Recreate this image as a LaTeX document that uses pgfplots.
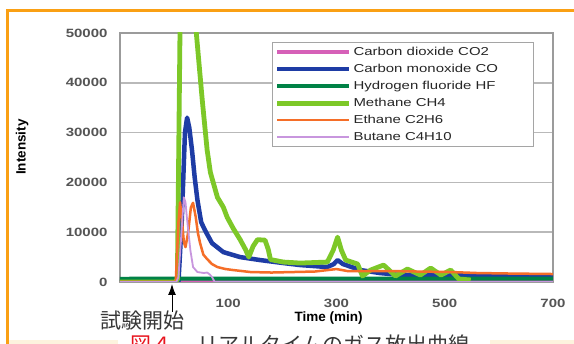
\documentclass[border=0pt]{standalone}
\usepackage{pgfplots}
\pgfplotsset{compat=1.18}
\usepackage{fontspec}
\setmainfont{Liberation Sans}
\newfontfamily\cjk{Noto Sans CJK JP}
\newfontfamily\legfont[FakeStretch=1.3]{Liberation Sans}
\newfontfamily\tickfont[FakeStretch=1.25]{Liberation Sans}
\usetikzlibrary{arrows.meta}
\definecolor{cCOtwo}{RGB}{214,96,184}
\definecolor{cCO}{RGB}{30,60,165}
\definecolor{cHF}{RGB}{0,130,70}
\definecolor{cCH}{RGB}{125,200,40}
\definecolor{cET}{RGB}{245,110,40}
\definecolor{cBU}{RGB}{200,150,222}
\definecolor{orangeframe}{RGB}{250,160,20}
\definecolor{beige}{RGB}{253,243,222}
\definecolor{gridgray}{RGB}{185,185,185}
\definecolor{axisgray}{RGB}{155,155,155}
\definecolor{legendgray}{RGB}{165,165,165}
\definecolor{tickgray}{RGB}{85,85,85}
\definecolor{capgray}{RGB}{55,55,55}
\definecolor{capred}{RGB}{232,20,30}
\newcommand{\lt}[1]{\makebox[176pt][l]{#1}}

\begin{document}
\begin{tikzpicture}[x=1pt,y=1pt]
\useasboundingbox (0,0) rectangle (574,344);
\fill[white] (0,0) rectangle (574,344);
\fill[beige] (8,0) rectangle (118,4);
\fill[beige] (490,0) rectangle (574,4);
\draw[orangeframe, line width=3pt] (7,-5) -- (7,333) -- (580,333);
\begin{axis}[
  at={(120pt,62pt)}, anchor=south west,
  scale only axis, width=433pt, height=249pt,
  xmin=-100, xmax=700, ymin=0, ymax=50000,
  xtick={100,300,500,700},
  ytick={0,10000,20000,30000,40000,50000},
  scaled y ticks=false,
  /pgf/number format/assume math mode=true,
  /pgf/number format/1000 sep={},
  ymajorgrids,
  grid style={gridgray, line width=1.6pt},
  axis line style={axisgray, line width=1.6pt},
  major tick length=0pt,
  tick label style={font=\tickfont\bfseries\fontsize{12}{12}\selectfont, text=tickgray},
  yticklabel style={xshift=-9pt},
  xticklabel style={yshift=-14pt},
  xlabel={Time (min)},
  ylabel={Intensity},
  label style={font=\bfseries\fontsize{13.5}{14}\selectfont},
  xlabel style={at={(axis description cs:0.482,0)}, anchor=center, yshift=-36pt},
  ylabel style={at={(axis description cs:-0.226,0.542)}, anchor=center},
  every axis plot/.append style={line join=round, no markers},
  legend cell align=left,
  legend image code/.code={\path (-35pt,0pt) -- (0pt,0pt); \draw[#1] (0pt,0pt) -- (37pt,0pt);},
  legend style={at={(0.351,0.964)}, anchor=north west, draw=legendgray, line width=1.5pt,
    font=\legfont\fontsize{11.5}{12}\selectfont, text=black!85, inner xsep=2pt, inner ysep=1pt, row sep=0pt,
    nodes={inner sep=2pt, text height=9.5pt, text depth=3.5pt}},
]
\addplot[cCOtwo, line width=3.5pt] coordinates {(-100,0) (700,0)};
\addlegendentry{\lt{Carbon dioxide CO2}}
\addplot[cCO, line width=4.5pt] coordinates {
(-100,0) (8,0) (14,12000) (20,30000) (24,33000) (28,31000) (33,26500) (38,21000) (43,16500)
(50,12000) (57,10400) (70,7800) (91,6000) (122,5000) (159,4400) (202,3800) (233,3400)
(283,3000) (295,3600) (302,4400) (312,3600) (344,2400) (380,1800) (418,1400) (480,1500)
(535,1400) (585,1200) (650,1200) (700,1300)};
\addlegendentry{\lt{Carbon monoxide CO}}
\addplot[cHF, line width=4pt] coordinates {(-100,650) (700,700)};
\addlegendentry{\lt{Hydrogen fluoride HF}}
\addplot[cCH, line width=4.8pt] coordinates {
(-100,0) (2,0) (6,500) (12,62000) (30,62000) (41,50000) (52,36500) (61,26500) (67,22000)
(80,17000) (91,15000) (98,13000) (109,10800) (122,8500) (132,6500) (138,5000) (146,7200)
(154,8500) (168,8400) (174,6500) (178,4500) (202,4000) (233,3800) (283,4000) (294,6400)
(302,9000) (309,6400) (317,4400) (339,3600) (348,1200) (363,2400) (387,3400) (409,1200)
(431,2600) (455,1400) (474,2800) (493,1400) (511,2400) (526,600) (548,400)};
\addlegendentry{\lt{Methane CH4}}
\addplot[cET, line width=2.5pt] coordinates {
(-100,0) (3,0) (8,12000) (11,16000) (14,13000) (18,8000) (21,7000) (26,10000) (31,15000)
(35,15900) (40,13000) (44,9800) (48,7800) (54,5500) (61,4600) (70,3600) (80,3000) (95,2600)
(109,2400) (141,2000) (180,1900) (220,2000) (260,2100) (300,2600) (320,2200) (400,2200)
(450,2100) (511,2000) (560,1800) (620,1700) (700,1600)};
\addlegendentry{\lt{Ethane C2H6}}
\addplot[cBU, line width=1.8pt] coordinates {
(-100,0) (4,0) (8,1000) (13,9000) (18,17000) (21,16000) (24,12500) (30,6400) (35,3000)
(43,2000) (55,1800) (61,1900) (66,1500) (70,1000) (75,0) (700,0)};
\addlegendentry{\lt{Butane C4H10}}
\end{axis}
\draw[-{Latex[length=11pt,width=8pt]}, line width=1pt, black] (172,32) -- (172,60);
\node[anchor=base west, inner sep=0pt, text=capgray, font=\cjk\fontsize{21}{21}\selectfont] at (100,15) {試験開始};
\node[anchor=base west, inner sep=0pt, text=capred, font=\cjk\fontsize{21}{21}\selectfont] at (130,-9) {図４};
\node[anchor=base west, inner sep=0pt, text=capgray, font=\cjk\fontsize{21}{21}\selectfont] at (197,-9) {リアルタイムのガス放出曲線};
\end{tikzpicture}
\end{document}
